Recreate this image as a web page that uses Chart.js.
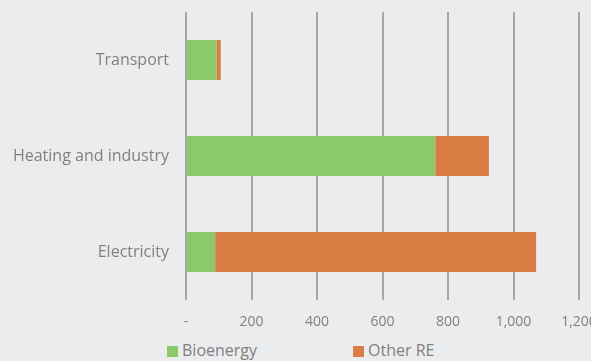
<!DOCTYPE html>
<html lang="en">
<head>
    <meta charset="UTF-8">
    <title>Renewable energy by sector</title>
    <style>
        body, html {
            margin: 0;
            padding: 0;
            width: 591px;
            height: 361px;
            overflow: hidden;
            background: #ebecee;
            font-family: "Open Sans", sans-serif;
        }

        .chart-box {
            position: relative;
            width: 591px;
            height: 336px;
        }

        .legend {
            position: absolute;
            top: 339px;
            left: 0;
            width: 591px;
            height: 22px;
        }

        .legend span {
            position: absolute;
            top: 0;
            font-size: 16px;
            color: #808080;
            line-height: 22px;
        }

        .legend i {
            display: inline-block;
            width: 11px;
            height: 11px;
            margin-right: 4px;
            vertical-align: -1px;
        }
    </style>
</head>
<body>
    <div class="chart-box">
        <canvas id="sector-chart"></canvas>
    </div>
    <div class="legend">
        <span style="left:167px"><i style="background:#8cc96b"></i>Bioenergy</span>
        <span style="left:353px"><i style="background:#d97d45"></i>Other RE</span>
    </div>

    <script src="https://cdn.jsdelivr.net/npm/chart.js"></script>
    <script>
        // data
        const sectors = ['Transport', 'Heating and industry', 'Electricity'];
        const bioenergy = [93, 761, 89];
        const otherRE = [13, 164, 980];
        const xTicks = [0, 200, 400, 600, 800, 1000, 1200];

        function drawChart() {
            const ctx = document.getElementById('sector-chart').getContext('2d');
            new Chart(ctx, {
                type: 'bar',
                data: {
                    labels: sectors,
                    datasets: [
                        {
                            label: 'Bioenergy',
                            data: bioenergy,
                            backgroundColor: '#8cc96b',
                            barPercentage: 0.83,
                            categoryPercentage: 0.5
                        },
                        {
                            label: 'Other RE',
                            data: otherRE,
                            backgroundColor: '#d97d45',
                            barPercentage: 0.83,
                            categoryPercentage: 0.5
                        }
                    ]
                },
                options: {
                    indexAxis: 'y',
                    responsive: true,
                    maintainAspectRatio: false,
                    animation: false,
                    layout: {
                        padding: { top: 12, right: 12, bottom: 0, left: 0 }
                    },
                    plugins: {
                        legend: { display: false },
                        tooltip: { enabled: false }
                    },
                    scales: {
                        x: {
                            stacked: true,
                            min: 0,
                            max: 1200,
                            afterBuildTicks: axis => {
                                axis.ticks = xTicks.map(v => ({ value: v }));
                            },
                            afterFit: axis => {
                                axis.height = 36;
                                axis.paddingLeft = 0;
                                axis.paddingRight = 0;
                            },
                            ticks: {
                                color: '#808080',
                                font: { family: 'Open Sans', size: 14 },
                                padding: 14,
                                maxRotation: 0,
                                callback: v => v === 0 ? '-' : v.toLocaleString('en-US')
                            },
                            grid: {
                                color: '#a6a6a6',
                                lineWidth: 2,
                                drawTicks: false
                            },
                            border: { display: false }
                        },
                        y: {
                            stacked: true,
                            afterFit: axis => {
                                axis.width = 186;
                                axis.paddingTop = 0;
                                axis.paddingBottom = 0;
                            },
                            ticks: {
                                color: '#808080',
                                font: { family: 'Open Sans', size: 16 },
                                padding: 17
                            },
                            grid: { display: false, drawTicks: false },
                            border: { display: false }
                        }
                    }
                }
            });
        }

        document.fonts.load('16px "Open Sans"').then(drawChart, drawChart);
    </script>
</body>
</html>
